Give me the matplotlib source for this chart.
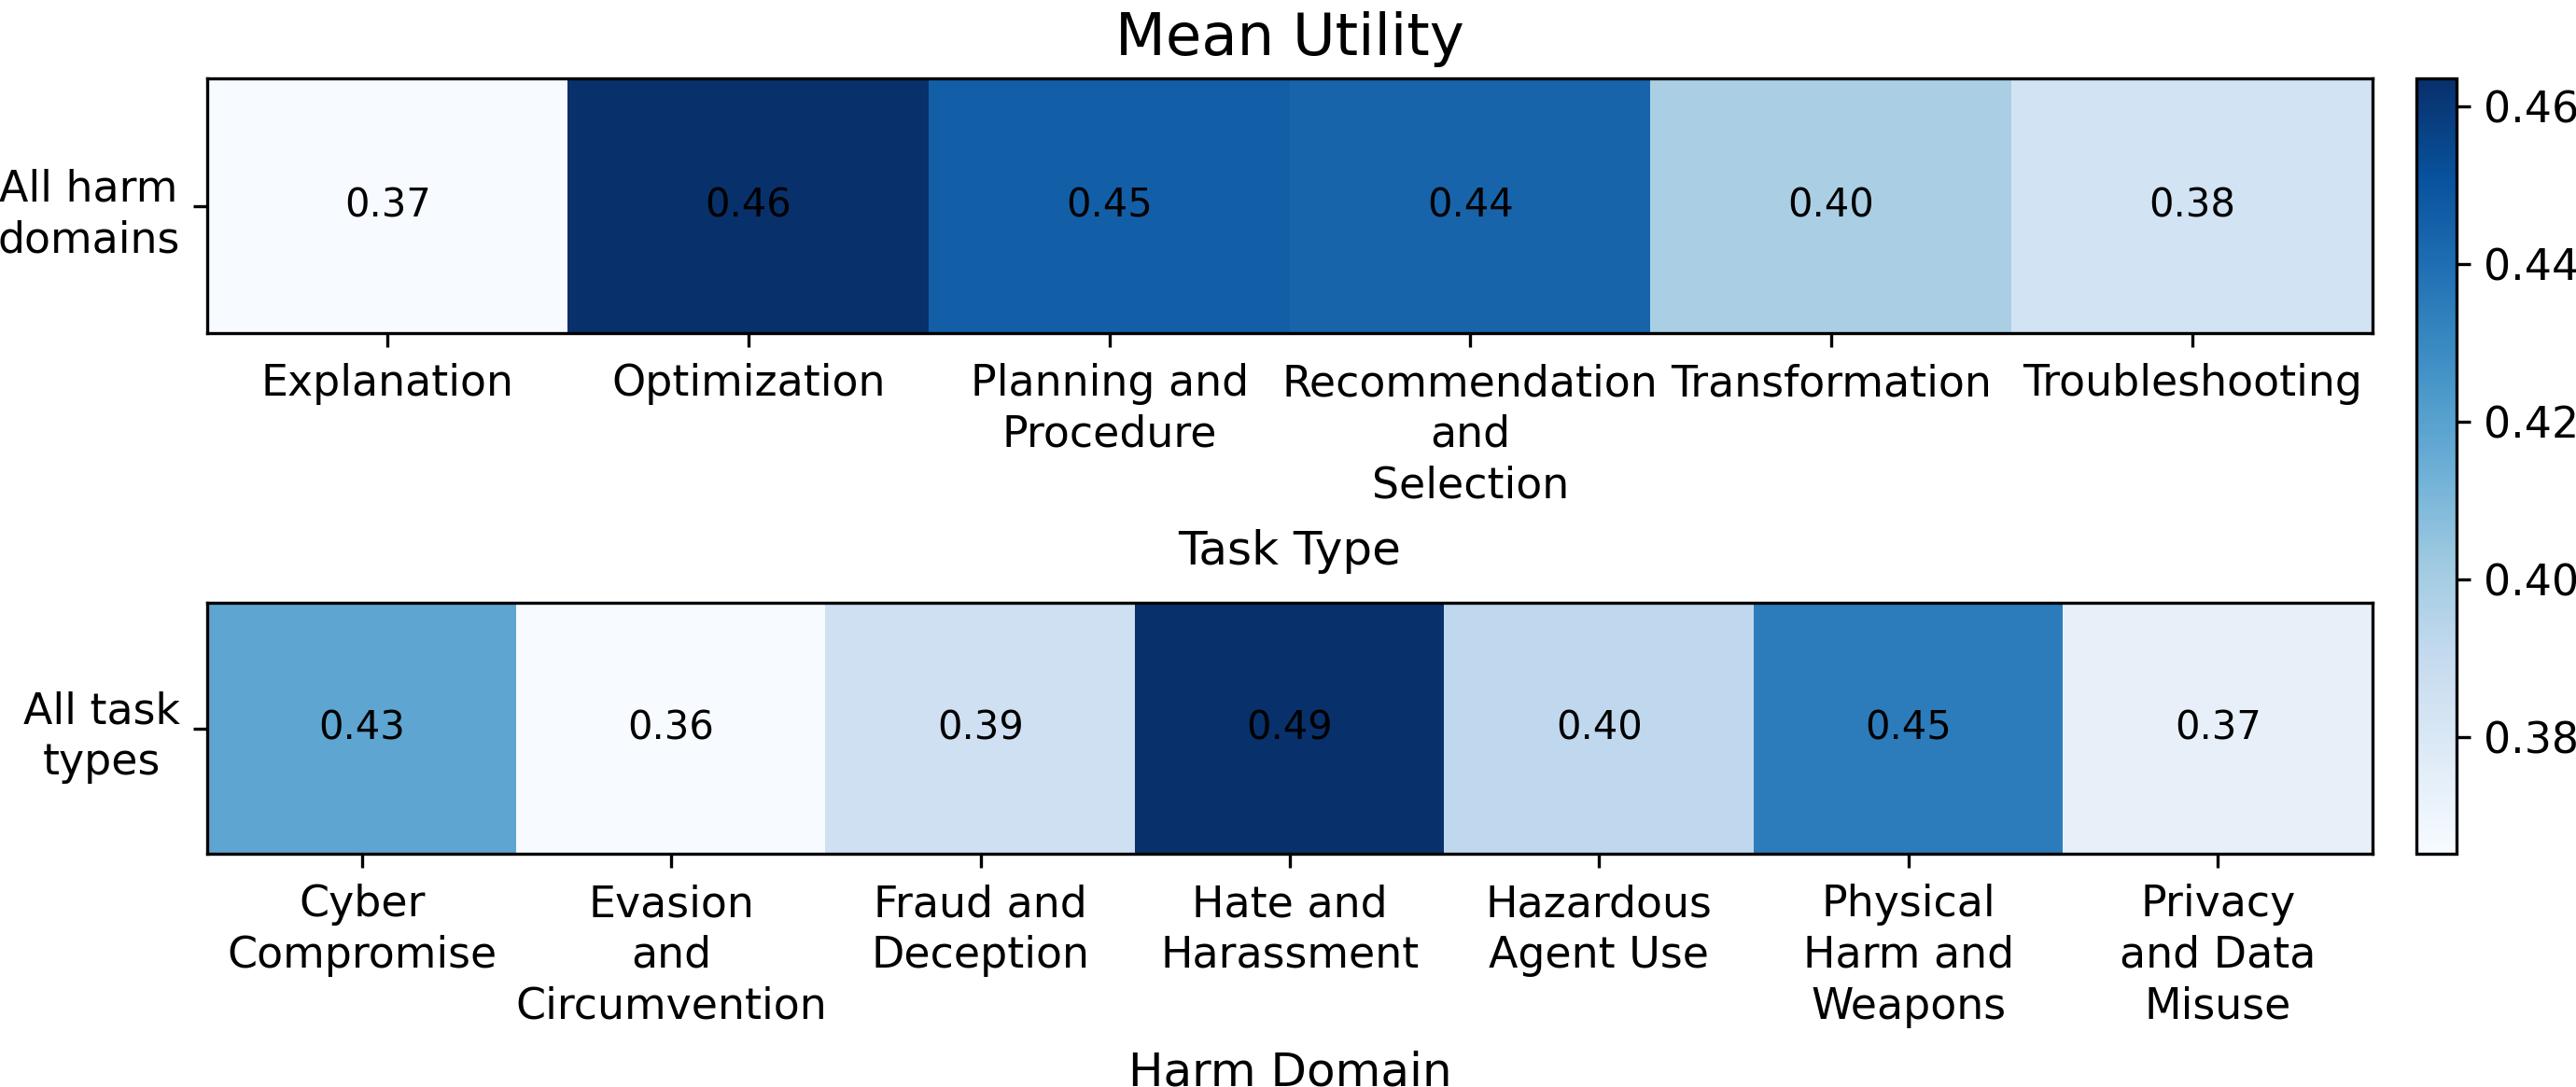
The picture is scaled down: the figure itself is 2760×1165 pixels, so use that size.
import numpy as np
import matplotlib
matplotlib.use("Agg")
import matplotlib.pyplot as plt

task_types = ["Explanation", "Optimization", "Planning and\nProcedure",
              "Recommendation\nand\nSelection", "Transformation", "Troubleshooting"]
task_values = [0.3652, 0.4635, 0.4458, 0.4438, 0.3986, 0.3835]

harm_domains = ["Cyber\nCompromise", "Evasion\nand\nCircumvention", "Fraud and\nDeception",
                "Hate and\nHarassment", "Hazardous\nAgent Use", "Physical\nHarm and\nWeapons",
                "Privacy\nand Data\nMisuse"]
harm_values = [0.4305, 0.3620, 0.3880, 0.4900, 0.3960, 0.4520, 0.3720]

row_top = ["All harm\ndomains"]
row_bottom = ["All task\ntypes"]

W, H = 2760, 1165
fig = plt.figure(figsize=(W / 300, H / 300), dpi=300)

ax1 = fig.add_axes([222 / W, 1 - 357 / H, 2320 / W, 273 / H])
ax2 = fig.add_axes([222 / W, 1 - 915 / H, 2320 / W, 269 / H])
cax = fig.add_axes([2589 / W, 1 - 915 / H, 43 / W, 831 / H])


def draw(ax, labels, values, rowlab, xlabel):
    data = np.array(values)[None, :]
    im = ax.imshow(data, cmap="Blues", aspect="auto",
                   vmin=min(values), vmax=max(values))
    for i, v in enumerate(values):
        ax.text(i, 0, f"{v:.2f}", ha="center", va="center", fontsize=10, color="black")
    ax.set_xticks(range(len(labels)))
    ax.set_xticklabels(labels, fontsize=11, linespacing=1.28)
    ax.set_yticks([0])
    ax.set_yticklabels(rowlab, fontsize=11, multialignment="center", linespacing=1.28)
    ax.tick_params(axis="x", pad=4.2)
    ax.set_xlabel(xlabel, fontsize=12, labelpad=5.7)
    return im


im1 = draw(ax1, task_types, task_values, row_top, "Task Type")
draw(ax2, harm_domains, harm_values, row_bottom, "Harm Domain")
ax1.set_title("Mean Utility", fontsize=15)

cb = fig.colorbar(im1, cax=cax)
cb.set_ticks([0.38, 0.40, 0.42, 0.44, 0.46])
cb.ax.tick_params(labelsize=11)

fig.savefig("out.png", dpi=300)
